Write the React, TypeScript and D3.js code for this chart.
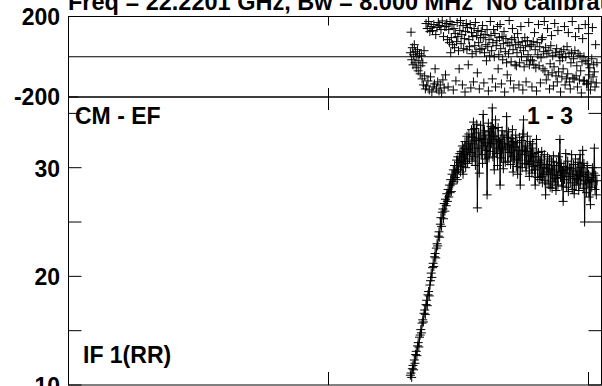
import React from "react";
import * as d3 from "d3";

// ---- data ----
const channelStart = 526;
const amplitude: number[] = [
  10.9, 11.1, 10.7, 11.5, 11.8, 11.4, 12.3, 12.0, 12.8, 13.1, 12.7, 13.6, 13.9, 13.5, 14.4, 14.6,
  15.1, 14.8, 15.7, 16.0, 15.8, 16.6, 16.9, 16.5, 17.4, 17.8, 17.3, 18.3, 18.6, 18.2, 19.2, 19.6,
  20.3, 19.9, 20.8, 21.2, 20.9, 21.8, 22.1, 21.7, 22.6, 23.0, 22.8, 23.7, 24.1, 23.6, 24.8,
  25.4, 24.6, 25.9, 26.2, 25.3, 26.7, 26.0, 27.1, 26.5, 27.6, 26.9, 28.0, 27.3, 28.4, 27.7,
  28.9, 27.8, 29.4, 28.5, 29.8, 28.7, 30.2, 29.1, 29.6, 30.7, 28.9, 31.0, 29.8, 30.5, 31.3, 29.6,
  31.5, 30.1, 32.0, 29.4, 31.8, 30.6, 32.4, 30.0, 31.2, 32.9, 30.4, 31.7, 33.1, 30.8, 32.2,
  31.4, 33.5, 30.6, 32.8, 34.2, 31.0, 33.6, 30.2, 32.5, 34.0, 26.3, 31.8, 33.2, 29.5, 32.7,
  33.9, 31.2, 32.6, 30.4, 34.9, 32.0, 33.4, 30.8, 33.0, 31.6, 27.5, 32.3, 34.1, 30.9, 33.3,
  31.5, 33.8, 32.2, 35.5, 31.0, 33.6, 29.8, 32.9, 34.4, 31.3, 32.6, 30.2, 33.7, 31.8, 32.4, 28.4,
  32.6, 30.9, 33.4, 31.7, 29.9, 33.0, 32.2, 30.5, 31.9, 34.7, 32.8, 30.6, 33.3, 31.4, 32.1,
  30.3, 32.7, 31.0, 33.5, 29.6, 32.4, 30.8, 31.9, 33.0, 30.1, 32.3, 29.4, 31.6, 30.7, 32.8, 28.4,
  31.2, 32.5, 30.0, 33.1, 34.4, 31.6, 30.4, 32.0, 29.7, 31.5, 32.9, 30.3, 31.1, 29.2, 32.4,
  30.6, 31.8, 29.5, 32.2, 30.1, 31.3, 29.8, 28.4, 31.0, 32.6, 30.2, 29.1, 31.4, 30.5, 28.9,
  30.7, 29.2, 31.5, 28.6, 30.0, 29.4, 31.2, 28.8, 27.5, 30.3, 29.6, 31.0, 28.5, 29.9, 30.8, 28.2,
  29.4, 30.6, 28.1, 29.8, 31.1, 28.7, 30.2, 29.0, 27.9, 30.5, 29.3, 28.4, 31.0, 29.6, 32.6,
  29.1, 30.4, 28.3, 29.7, 26.9, 30.1, 28.9, 29.5, 31.3, 28.2, 29.8, 30.6, 27.8, 29.2, 30.0,
  28.6, 29.9, 31.2, 28.0, 29.4, 30.3, 27.6, 29.0, 30.8, 28.4, 29.7, 28.9, 30.5, 27.9, 29.3, 31.2,
  28.5, 30.0, 29.2, 31.6, 28.1, 30.4, 25.0, 28.8, 29.6, 27.7, 30.2, 28.6, 29.4, 27.3, 28.9,
  26.6, 29.1, 28.2, 30.0, 28.7, 29.5, 31.8, 28.0, 29.3, 27.5, 28.8,
];
const phase: number[] = [
  20, 122, -15, 45, -40, 10, 60, -30, 25, -55, 0, 35, -70, -20, 15, -85, -45, 5, -110, -30,
  -140, 30, -95, -160,
  165, -145, 140, -120, 175, -165, 125, -100, 150, -175, 130, -150, 160, -135, -60, 110, -160, 145, -125, 170,
  -170, 155, -140, 135, -180, 178, -115, 100, -155, 150, -90,
  150, 165, 85, -150, 135, 70, 175, 20, 95, 160, 60, -165, 140, 45, 115, -120, 75, 170, 100, 30,
  -60, 130, 180, 65, 110, -140, 155, 40, 90, -175, 125, 165, 35, 145, -40, 85, 50, 160, -155, 120,
  15, 100, -125, 140, 55, 170, 25, 105, -80, 130, 70, -160, 35, 95,
  125, 40, 155, 95, -130, 20, 110, 60, -20, 135, 50, -170, 85, 5, 175, 105, 30, -110, 70, 135,
  0, 115, -150, 55, 80, 150, -60, 10, 95, 160, 40, -135, 100, -15, 65, 125, -175, 25, 90, -30,
  -90, 70, 15, 180, 55, -120, -25, 85, 140, 35, -155, 95, -40, 60, -45, 20, 115, 70, -140, -30,
  45, 150, 0, 75, -165, 30, -50, 95, 55, -125, -20, 80, 10, 170, -40, 50, -15,
  60, -150, -20, 75, -40, 120, 35, -55, -170, 70, 10, 160, -45, 50, -130, -5, 85, 95, -60, 25,
  175, -70, 45, -115, 15, 140, -90, 30, -160, -35, 55, 105, -80, 5, -145, -50, 165, 20, -95, 40,
  -125, 130, -75, 10, -20, -175, 25, -100, -5, -60, 35, 150, -140, 0, -110, 50, -85, 120, 15, -125,
  -160, -30, 20, 175, -105, -10, -110, 30, 100, -95, -45, -150, 15, 140, -115, 5, -70, -180, -25, 90,
  -120, 0, -120, 160, -20, -135, -135, -35, 115, -90, -55, -165, -125, -10, 145, -100, -40, -75, -150, 60,
  -130, -30,
];
const xTickValues = [0, 400, 800];
const ampTickValues = [10, 15, 20, 25, 30, 35];
const ampLabelValues = [10, 20, 30];
const phaseLabelValues = [200, -200];
const title = "Freq = 22.2201 GHz, Bw = 8.000 MHz";
const title2 = "No calibration";
const baselineLabel = "CM - EF";
const sourceLabel = "1 - 3";
const ifLabel = "IF 1(RR)";

const W = 602;
const H = 386;
const L = 68.5;
const R = 601.5;
const PT = 16.5;
const PB = 97;
const AB = 385;
const FONT = "'Liberation Sans', Arial, Helvetica, sans-serif";

export default function App() {
  const x = d3.scaleLinear().domain([0, 800]).range([L, L + 520]);
  const yp = d3.scaleLinear().domain([-200, 200]).range([PB, PT]);
  const ya = d3.scaleLinear().domain([10, 30]).range([AB, 167.7]);

  const ampPts = amplitude.map((v, i) => [x(channelStart + i), ya(v)] as [number, number]);
  const phPts = phase.map((v, i) => [x(channelStart + i), yp(v)] as [number, number]);
  const line = d3.line<[number, number]>().x((d) => d[0]).y((d) => d[1]);
  const s = 4.5;
  const plus = (p: [number, number]) =>
    `M${p[0] - s},${p[1]}H${p[0] + s}M${p[0]},${p[1] - s}V${p[1] + s}`;

  const txt = { fontFamily: FONT, fontWeight: 700, fontSize: 23, fill: "#000" } as const;

  return (
    <svg width={W} height={H} style={{ position: "absolute", left: 0, top: 0, background: "#fff" }}>
      <rect x={0} y={0} width={W} height={H} fill="#fff" />
      {/* title */}
      <text x={68} y={10} {...txt} fontSize={23.5}>{title}</text>
      <text x={486} y={10} {...txt} fontSize={23.5}>{title2}</text>

      {/* top panel frame */}
      <g stroke="#000" strokeWidth={1} fill="none">
        <rect x={L} y={PT} width={R - L} height={PB - PT} />
        <line x1={L} x2={R} y1={yp(0)} y2={yp(0)} />
        <line x1={x(400)} x2={x(400)} y1={PT} y2={PT + 9} />
        <line x1={x(400)} x2={x(400)} y1={PB - 9} y2={PB} />
        <line x1={x(800)} x2={x(800)} y1={PT} y2={PB} />
        {phaseLabelValues.map((v) => (
          <line key={v} x1={L} x2={L + 10} y1={yp(v)} y2={yp(v)} />
        ))}
      </g>
      {/* bottom panel frame */}
      <g stroke="#000" strokeWidth={1} fill="none">
        <rect x={L} y={PB} width={R - L} height={AB - PB} />
        {xTickValues.slice(1).map((t) => (
          <g key={t}>
            <line x1={x(t)} x2={x(t)} y1={PB} y2={PB + 13} />
            <line x1={x(t)} x2={x(t)} y1={AB - 13} y2={AB} />
          </g>
        ))}
        {ampTickValues.map((t) => (
          <g key={t}>
            <line x1={L} x2={L + 13} y1={ya(t)} y2={ya(t)} />
            <line x1={R - 13} x2={R} y1={ya(t)} y2={ya(t)} />
          </g>
        ))}
      </g>

      {/* axis labels */}
      {phaseLabelValues.map((v) => (
        <text key={v} x={60} y={yp(v) + 8} textAnchor="end" {...txt}>{v}</text>
      ))}
      {ampLabelValues.map((v) => (
        <text key={v} x={60} y={ya(v) + 9} textAnchor="end" {...txt}>{v}</text>
      ))}

      {/* phase markers */}
      <path d={phPts.map(plus).join("")} stroke="#000" strokeWidth={1} fill="none" />

      {/* amplitude line + markers */}
      <path d={line(ampPts) || ""} stroke="#000" strokeWidth={1} fill="none" />
      <path d={ampPts.map(plus).join("")} stroke="#000" strokeWidth={1} fill="none" />

      {/* panel labels */}
      <text x={75} y={124} {...txt}>{baselineLabel}</text>
      <text x={573} y={124} textAnchor="end" {...txt}>{sourceLabel}</text>
      <text x={83} y={363} {...txt}>{ifLabel}</text>
    </svg>
  );
}
